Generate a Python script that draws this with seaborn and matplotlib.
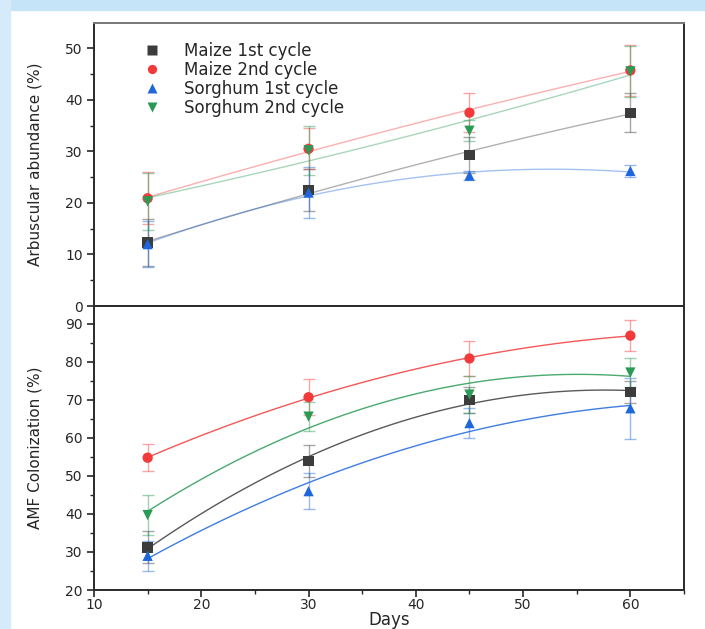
import numpy as np
import pandas as pd
import matplotlib
matplotlib.use("Agg")
import matplotlib.pyplot as plt
from matplotlib.ticker import MultipleLocator
from matplotlib.patches import Rectangle
import seaborn as sns

# data
days = [15, 30, 45, 60]
groups = ["Maize 1st cycle", "Maize 2nd cycle", "Sorghum 1st cycle", "Sorghum 2nd cycle"]

arb_maize1 = [12.3, 22.5, 29.3, 37.5]
arb_maize2 = [20.9, 30.5, 37.5, 45.7]
arb_sorg1 = [12.0, 22.0, 25.3, 26.2]
arb_sorg2 = [20.3, 30.2, 34.0, 45.5]
arb_maize1_err = [4.5, 4.0, 3.5, 3.8]
arb_maize2_err = [5.0, 4.0, 3.8, 5.0]
arb_sorg1_err = [4.5, 5.0, 0.8, 1.1]
arb_sorg2_err = [5.5, 4.8, 2.0, 5.0]

amf_maize1 = [31.2, 54.0, 70.0, 72.1]
amf_maize2 = [54.8, 70.7, 80.9, 86.9]
amf_sorg1 = [29.0, 46.0, 63.9, 67.8]
amf_sorg2 = [39.7, 65.6, 71.4, 77.2]
amf_maize1_err = [4.2, 4.2, 3.5, 3.0]
amf_maize2_err = [3.6, 4.7, 4.6, 4.1]
amf_sorg1_err = [4.0, 4.7, 4.0, 8.0]
amf_sorg2_err = [5.3, 3.8, 4.8, 3.9]

colors = {"Maize 1st cycle": "#3c3c3c", "Maize 2nd cycle": "#f23a3a",
          "Sorghum 1st cycle": "#1e66dc", "Sorghum 2nd cycle": "#2a9a55"}
markers = {"Maize 1st cycle": "s", "Maize 2nd cycle": "o",
           "Sorghum 1st cycle": "^", "Sorghum 2nd cycle": "v"}


def make_df(vals, errs):
    rows = []
    for g, v, e in zip(groups, vals, errs):
        for d, y, s in zip(days, v, e):
            rows.append({"Days": d, "value": y, "err": s, "group": g})
    return pd.DataFrame(rows)


arb = make_df([arb_maize1, arb_maize2, arb_sorg1, arb_sorg2],
              [arb_maize1_err, arb_maize2_err, arb_sorg1_err, arb_sorg2_err])
amf = make_df([amf_maize1, amf_maize2, amf_sorg1, amf_sorg2],
              [amf_maize1_err, amf_maize2_err, amf_sorg1_err, amf_sorg2_err])

sns.set_style("ticks")
plt.rcParams["font.family"] = ["DejaVu Sans"]
plt.rcParams["axes.linewidth"] = 1.4

fig = plt.figure(figsize=(7.05, 6.29), dpi=100)
fig.patch.set_facecolor("white")
# light blue frame on the top and left of the picture
fig.patches.append(Rectangle((0, 1 - 10 / 629), 1, 10 / 629, transform=fig.transFigure,
                             color="#c6e4f8", zorder=-5))
fig.patches.append(Rectangle((0, 0), 10 / 705, 1, transform=fig.transFigure,
                             color="#d6ebfa", zorder=-5))

ax1 = fig.add_axes([94 / 705, 1 - 306 / 629, 590 / 705, 283 / 629])
ax2 = fig.add_axes([94 / 705, 1 - 590 / 629, 590 / 705, 284 / 629])


def draw(ax, df, line_alpha):
    for g in groups:
        sub = df[df.group == g]
        ax.errorbar(sub.Days, sub.value, yerr=sub.err, fmt="none", ecolor=colors[g],
                    alpha=0.45, elinewidth=1.0, capsize=4, capthick=1.0, zorder=2)
        coef = np.polyfit(sub.Days, sub.value, 2)
        xs = np.linspace(15, 60, 100)
        fit = pd.DataFrame({"Days": xs, "value": np.polyval(coef, xs)})
        sns.lineplot(data=fit, x="Days", y="value", ax=ax, color=colors[g],
                     alpha=line_alpha, linewidth=1.0, zorder=3)
    sns.scatterplot(data=df, x="Days", y="value", hue="group", style="group",
                    palette=colors, markers=markers, s=55, edgecolor="none",
                    ax=ax, zorder=4, legend=(ax is ax1))


draw(ax1, arb, 0.4)
draw(ax2, amf, 0.85)

for ax in (ax1, ax2):
    ax.set_xlim(10, 65)
    ax.xaxis.set_major_locator(MultipleLocator(10))
    ax.xaxis.set_minor_locator(MultipleLocator(5))
    ax.yaxis.set_major_locator(MultipleLocator(10))
    ax.yaxis.set_minor_locator(MultipleLocator(5))
    ax.tick_params(which="major", direction="out", length=5, width=1.2, labelsize=10, pad=3)
    ax.tick_params(which="minor", direction="out", length=3, width=1.0)
    for s in ax.spines.values():
        s.set_visible(True)
        s.set_color("#2a2a2a")

ax1.spines["top"].set_color("#777777")
ax1.set_ylim(0, 54.9)
ax1.tick_params(axis="x", which="both", bottom=False, labelbottom=False)
ax1.set_xlabel("")
ax1.set_ylabel("Arbuscular abundance (%)", fontsize=11)

ax2.set_ylim(20, 94.7)
ax2.tick_params(axis="x", which="major", pad=1)
ax2.set_xlabel("Days", fontsize=12, labelpad=0)
ax2.set_ylabel("AMF Colonization (%)", fontsize=11)

ax1.yaxis.set_label_coords(-0.088, 0.5)
ax2.yaxis.set_label_coords(-0.088, 0.5)
ax2.xaxis.set_label_coords(0.5, -0.075)

leg = ax1.legend(loc="upper left", bbox_to_anchor=(0.045, 0.985), frameon=False,
                 fontsize=12, handletextpad=0.9, labelspacing=0.05, markerscale=0.9)

fig.savefig("out.png", dpi=100)
